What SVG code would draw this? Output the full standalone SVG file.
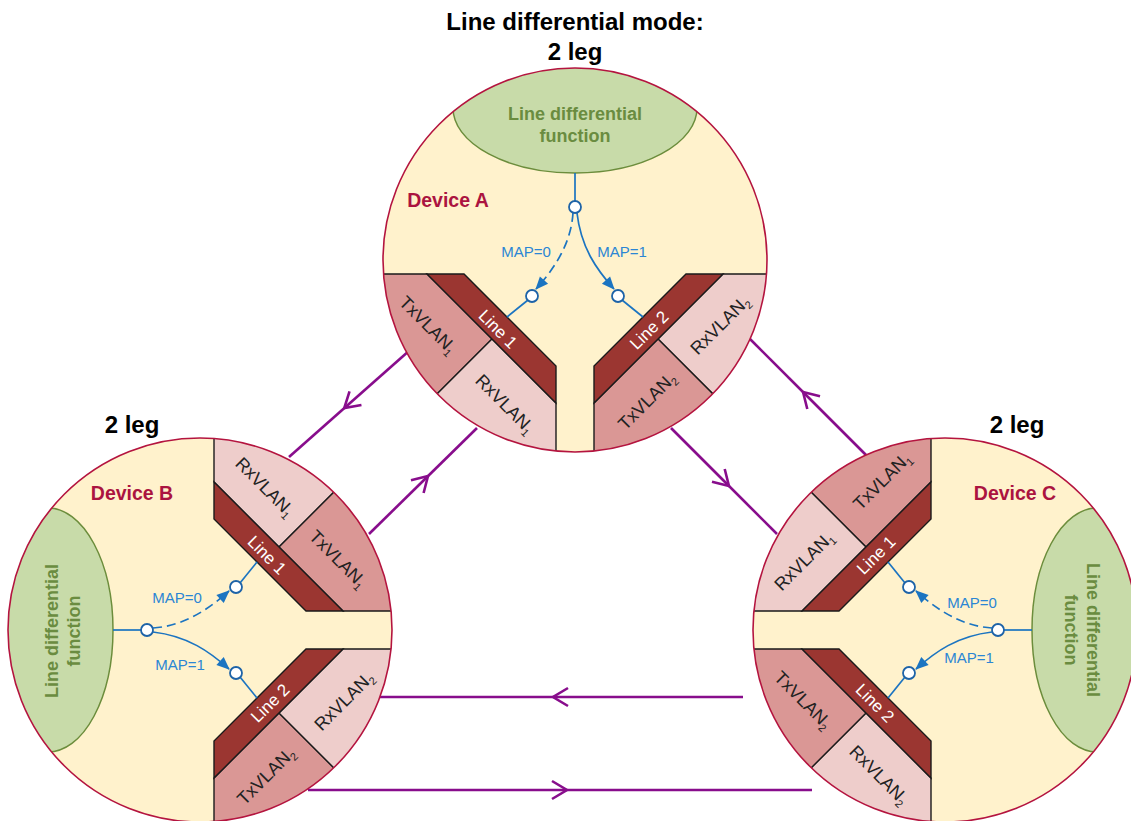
<svg xmlns="http://www.w3.org/2000/svg" width="1131" height="821" viewBox="0 0 1131 821">
<style>
text{font-family:"Liberation Sans",Arial,sans-serif}
.title{font-size:24px;font-weight:bold;fill:#000;text-anchor:middle}
.dev{font-size:19.5px;font-weight:bold;fill:#ab1440;text-anchor:middle}
.fn{font-size:18px;font-weight:bold;fill:#6a8c40;text-anchor:middle}
.vl{font-size:18px;fill:#222;text-anchor:middle}
.ln{font-size:17px;fill:#fff;text-anchor:middle}
.map{font-size:15px;fill:#2b86d4;text-anchor:middle}
.bg{fill:#fff2cc}
.fnel{fill:#c8dba9;stroke:#6c8d3c;stroke-width:1.5}
.md{fill:#da9795;stroke:#1a1a1a;stroke-width:1.4}
.lt{fill:#eecdcb;stroke:#1a1a1a;stroke-width:1.4}
.band{fill:#9b3631;stroke:#1a1a1a;stroke-width:1.4}
.rim{fill:none;stroke:#b4143f;stroke-width:1.6}
.bl{fill:none;stroke:#1b74c1;stroke-width:1.7}
.dash{stroke-dasharray:9 5}
.pt{fill:#fff;stroke:#1d63a8;stroke-width:1.8}
.link{fill:none;stroke:#880d8c;stroke-width:2.6}
</style>
<defs>
<clipPath id="cc"><circle cx="0" cy="0" r="192"/></clipPath>
<marker id="ba" markerUnits="userSpaceOnUse" orient="auto" overflow="visible" markerWidth="20" markerHeight="20" refX="0" refY="0">
<path d="M-12,-5.5 L1,0 L-12,5.5 Z" fill="#1b74c1"/>
</marker>
<marker id="chev" markerUnits="userSpaceOnUse" orient="auto" overflow="visible" markerWidth="30" markerHeight="30" refX="0" refY="0">
<path d="M-8,-9 L7,0 L-8,9" fill="none" stroke="#880d8c" stroke-width="2.6"/>
</marker>
</defs>

<g id="title">
<text class="title" x="575" y="30">Line differential mode:</text>
<text class="title" x="575" y="60">2 leg</text>
<text class="title" x="132" y="433">2 leg</text>
<text class="title" x="1017" y="433">2 leg</text>
</g>

<g id="connectors">
<polyline class="link" points="410,350 349.5,403.5 289,457" marker-mid="url(#chev)"/>
<polyline class="link" points="369,534 423,481 477,428" marker-mid="url(#chev)"/>
<polyline class="link" points="866,455 808,397 750,339" marker-mid="url(#chev)"/>
<polyline class="link" points="671,428 724,481 777,534" marker-mid="url(#chev)"/>
<polyline class="link" points="743,697 560,697 377,697" marker-mid="url(#chev)"/>
<polyline class="link" points="308,790 560,790 812,790" marker-mid="url(#chev)"/>
</g>

<g id="device-a">
<g transform="translate(575,260)">
<g clip-path="url(#cc)">
<circle r="192" class="bg"/>
<ellipse cx="0" cy="-152" rx="122" ry="65" class="fnel"/>
<polygon class="md" points="-200,14 -148,14 -83,79 -200,196"/>
<polygon class="lt" points="-83,79 -19,143 -19,200 -204,200"/>
<polygon class="band" points="-148,14 -111,14 -19,106 -19,143"/>
<polygon class="lt" points="200,14 148,14 83,79 200,196"/>
<polygon class="md" points="83,79 19,143 19,200 204,200"/>
<polygon class="band" points="148,14 111,14 19,106 19,143"/>
</g>
<circle r="192" class="rim"/>
<line class="bl" x1="0" y1="-87" x2="0" y2="-59"/>
<path class="bl dash" d="M-2,-47 C-4,-15 -22,10 -39,29" marker-end="url(#ba)"/>
<path class="bl" d="M2,-47 C6,-12 22,10 39,29" marker-end="url(#ba)"/>
<line class="bl" x1="-47" y1="40" x2="-68" y2="57"/>
<line class="bl" x1="47" y1="40" x2="68" y2="57"/>
<circle class="pt" cx="0" cy="-53" r="6"/>
<circle class="pt" cx="-43" cy="36" r="6"/>
<circle class="pt" cx="43" cy="36" r="6"/>
</g>
<text class="fn" x="575" y="120">Line differential</text>
<text class="fn" x="575" y="142">function</text>
<text class="dev" x="448" y="207">Device A</text>
<text class="map" x="526" y="257">MAP=0</text>
<text class="map" x="622" y="257">MAP=1</text>
<text class="vl" transform="translate(428,325) rotate(45)" y="6">TxVLAN<tspan font-size="11" dy="4">1</tspan></text>
<text class="vl" transform="translate(505,404) rotate(45)" y="6">RxVLAN<tspan font-size="11" dy="4">1</tspan></text>
<text class="ln" transform="translate(498,329) rotate(45)" y="6">Line 1</text>
<text class="ln" transform="translate(649,330) rotate(-45)" y="6">Line 2</text>
<text class="vl" transform="translate(720,325) rotate(-45)" y="6">RxVLAN<tspan font-size="11" dy="4">2</tspan></text>
<text class="vl" transform="translate(647,401) rotate(-45)" y="6">TxVLAN<tspan font-size="11" dy="4">2</tspan></text>
</g>

<g id="device-b">
<g transform="translate(200,630) matrix(0,1,1,0,0,0)">
<g clip-path="url(#cc)">
<circle r="192" class="bg"/>
<ellipse cx="0" cy="-152" rx="122" ry="65" class="fnel"/>
<polygon class="lt" points="-200,14 -148,14 -83,79 -200,196"/>
<polygon class="md" points="-83,79 -19,143 -19,200 -204,200"/>
<polygon class="band" points="-148,14 -111,14 -19,106 -19,143"/>
<polygon class="md" points="200,14 148,14 83,79 200,196"/>
<polygon class="lt" points="83,79 19,143 19,200 204,200"/>
<polygon class="band" points="148,14 111,14 19,106 19,143"/>
</g>
<circle r="192" class="rim"/>
<line class="bl" x1="0" y1="-87" x2="0" y2="-59"/>
<path class="bl dash" d="M-2,-47 C-4,-15 -22,10 -39,29" marker-end="url(#ba)"/>
<path class="bl" d="M2,-47 C6,-12 22,10 39,29" marker-end="url(#ba)"/>
<line class="bl" x1="-47" y1="40" x2="-68" y2="57"/>
<line class="bl" x1="47" y1="40" x2="68" y2="57"/>
<circle class="pt" cx="0" cy="-53" r="6"/>
<circle class="pt" cx="-43" cy="36" r="6"/>
<circle class="pt" cx="43" cy="36" r="6"/>
</g>
<text class="fn" transform="translate(58,631) rotate(-90)"><tspan x="0" y="0">Line differential</tspan><tspan x="0" y="22">function</tspan></text>
<text class="dev" x="132" y="500">Device B</text>
<text class="map" x="177" y="603">MAP=0</text>
<text class="map" x="180" y="670">MAP=1</text>
<text class="vl" transform="translate(265,487) rotate(45)" y="6">RxVLAN<tspan font-size="11" dy="4">1</tspan></text>
<text class="vl" transform="translate(338,559) rotate(45)" y="6">TxVLAN<tspan font-size="11" dy="4">1</tspan></text>
<text class="ln" transform="translate(267,555) rotate(45)" y="6">Line 1</text>
<text class="ln" transform="translate(270,703) rotate(-45)" y="6">Line 2</text>
<text class="vl" transform="translate(344,701) rotate(-45)" y="6">RxVLAN<tspan font-size="11" dy="4">2</tspan></text>
<text class="vl" transform="translate(266,776) rotate(-45)" y="6">TxVLAN<tspan font-size="11" dy="4">2</tspan></text>
</g>

<g id="device-c">
<g transform="translate(945,630) rotate(90)">
<g clip-path="url(#cc)">
<circle r="192" class="bg"/>
<ellipse cx="0" cy="-152" rx="122" ry="65" class="fnel"/>
<polygon class="md" points="-200,14 -148,14 -83,79 -200,196"/>
<polygon class="lt" points="-83,79 -19,143 -19,200 -204,200"/>
<polygon class="band" points="-148,14 -111,14 -19,106 -19,143"/>
<polygon class="lt" points="200,14 148,14 83,79 200,196"/>
<polygon class="md" points="83,79 19,143 19,200 204,200"/>
<polygon class="band" points="148,14 111,14 19,106 19,143"/>
</g>
<circle r="192" class="rim"/>
<line class="bl" x1="0" y1="-87" x2="0" y2="-59"/>
<path class="bl dash" d="M-2,-47 C-4,-15 -22,10 -39,29" marker-end="url(#ba)"/>
<path class="bl" d="M2,-47 C6,-12 22,10 39,29" marker-end="url(#ba)"/>
<line class="bl" x1="-47" y1="40" x2="-68" y2="57"/>
<line class="bl" x1="47" y1="40" x2="68" y2="57"/>
<circle class="pt" cx="0" cy="-53" r="6"/>
<circle class="pt" cx="-43" cy="36" r="6"/>
<circle class="pt" cx="43" cy="36" r="6"/>
</g>
<text class="fn" transform="translate(1087,630) rotate(90)"><tspan x="0" y="0">Line differential</tspan><tspan x="0" y="22">function</tspan></text>
<text class="dev" x="1015" y="500">Device C</text>
<text class="map" x="972" y="608">MAP=0</text>
<text class="map" x="969" y="663">MAP=1</text>
<text class="vl" transform="translate(882,481) rotate(-45)" y="6">TxVLAN<tspan font-size="11" dy="4">1</tspan></text>
<text class="vl" transform="translate(804,561) rotate(-45)" y="6">RxVLAN<tspan font-size="11" dy="4">1</tspan></text>
<text class="ln" transform="translate(876,555) rotate(-45)" y="6">Line 1</text>
<text class="ln" transform="translate(875,703) rotate(45)" y="6">Line 2</text>
<text class="vl" transform="translate(803,700) rotate(45)" y="6">TxVLAN<tspan font-size="11" dy="4">2</tspan></text>
<text class="vl" transform="translate(879,775) rotate(45)" y="6">RxVLAN<tspan font-size="11" dy="4">2</tspan></text>
</g>
</svg>
